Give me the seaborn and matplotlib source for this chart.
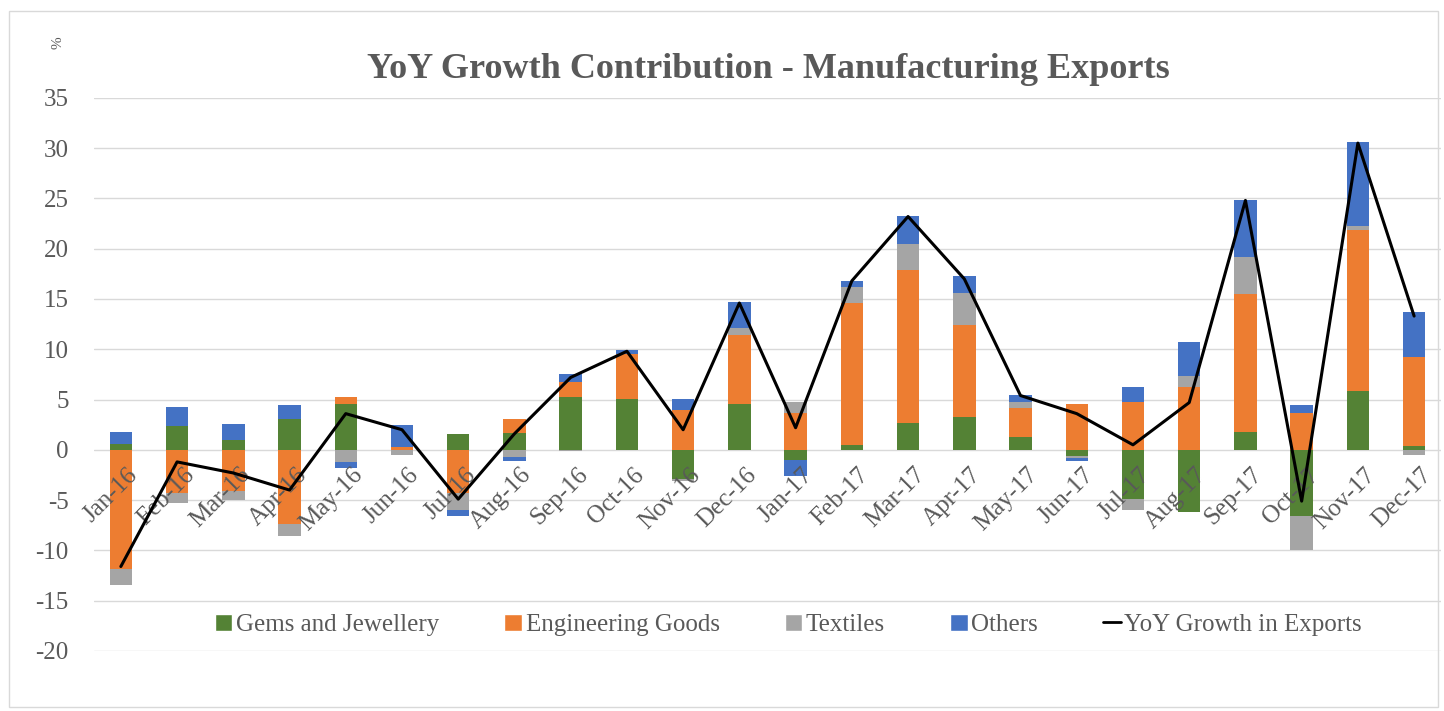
import numpy as np
import pandas as pd
import seaborn as sns
import matplotlib.pyplot as plt
from matplotlib.patches import Patch, Rectangle
from matplotlib.lines import Line2D
from matplotlib.transforms import ScaledTranslation

months = ["Jan-16", "Feb-16", "Mar-16", "Apr-16", "May-16", "Jun-16",
          "Jul-16", "Aug-16", "Sep-16", "Oct-16", "Nov-16", "Dec-16",
          "Jan-17", "Feb-17", "Mar-17", "Apr-17", "May-17", "Jun-17",
          "Jul-17", "Aug-17", "Sep-17", "Oct-17", "Nov-17", "Dec-17"]

gems = [0.6, 2.4, 1.0, 3.1, 4.55, 0.0, 1.55, 1.65, 5.25, 5.05, -2.9, 4.6,
        -1.0, 0.5, 2.65, 3.3, 1.25, -0.65, -4.9, -6.15, 1.8, -6.6, 5.9, 0.35]
engineering = [-11.8, -4.3, -4.05, -7.4, 0.75, 0.3, -4.3, 1.4, 1.5, 4.45, 4.0, 6.8,
               3.65, 14.1, 15.2, 9.15, 2.9, 4.6, 4.8, 6.2, 13.65, 3.65, 16.0, 8.85]
textiles = [-1.6, -1.0, -0.95, -1.2, -1.2, -0.5, -1.7, -0.75, -0.1, 0.0, -0.2, 0.7,
            1.1, 1.55, 2.65, 3.1, 0.6, -0.15, -1.1, 1.1, 3.75, -3.4, 0.4, -0.5]
others = [1.2, 1.9, 1.6, 1.4, -0.6, 2.2, -0.6, -0.4, 0.75, 0.4, 1.05, 2.6,
          -1.6, 0.6, 2.8, 1.75, 0.75, -0.3, 1.4, 3.4, 5.6, 0.85, 8.3, 4.5]
yoy = [-11.6, -1.2, -2.3, -4.0, 3.6, 2.0, -4.9, 1.6, 7.2, 9.8, 2.0, 14.6,
       2.2, 16.8, 23.2, 17.0, 5.4, 3.6, 0.5, 4.7, 24.8, -5.1, 30.5, 13.3]

series_names = ["Gems and Jewellery", "Engineering Goods", "Textiles", "Others"]
colors = ["#548235", "#ED7D31", "#A5A5A5", "#4472C4"]
text_col = "#595959"

sns.set_style("white")
plt.rcParams["font.family"] = ["Liberation Serif", "DejaVu Serif"]
plt.rcParams["axes.unicode_minus"] = False

fig = plt.figure(figsize=(14.44, 7.11), dpi=100)
ax = fig.add_axes([0.065, 0.0844, 0.933, 0.778])

vals = np.array([gems, engineering, textiles, others])
pos_cum = np.cumsum(np.clip(vals, 0, None), axis=0)
neg_cum = np.cumsum(np.clip(vals, None, 0), axis=0)

# stacked bars: draw cumulative totals from the outermost layer inwards
for k in range(3, -1, -1):
    for cum in (pos_cum, neg_cum):
        df = pd.DataFrame({"month": months, "value": cum[k]})
        sns.barplot(data=df, x="month", y="value", color=colors[k], width=0.4,
                    linewidth=0, saturation=1, ax=ax, order=months)

line_df = pd.DataFrame({"month": months, "yoy": yoy})
sns.lineplot(data=line_df, x="month", y="yoy", color="black", linewidth=2.2,
             sort=False, ax=ax, zorder=6)

ax.set_ylim(-20, 35)
ax.set_xlim(-0.48, 23.48)
ax.set_yticks(range(-20, 36, 5))
ax.yaxis.grid(True, color="#d9d9d9", linewidth=1)
ax.set_axisbelow(True)
for s in ax.spines.values():
    s.set_visible(False)
ax.set_xlabel("")
ax.set_ylabel("")
ax.tick_params(axis="y", length=0, labelsize=18, labelcolor=text_col, pad=18)

# month labels sit at the zero line, on top of the bars like in Excel
ax.spines["bottom"].set_position(("data", 0))
ax.xaxis.set_zorder(5)
ax.tick_params(axis="x", length=0, labelsize=18, labelcolor=text_col, pad=10)
ax.set_xticks(range(len(months)))
ax.set_xticklabels(months, rotation=45, ha="right", rotation_mode="anchor")
for lab in ax.get_xticklabels():
    lab.set_transform(lab.get_transform() + ScaledTranslation(0.06, 0, fig.dpi_scale_trans))

fig.text(0.532, 0.902, "YoY Growth Contribution - Manufacturing Exports",
         ha="center", va="center", fontsize=26, fontweight="bold", color=text_col)
fig.text(0.04, 0.94, "%", rotation=90, ha="center", va="center", fontsize=11, color=text_col)

handles = [Patch(facecolor=c, label=n) for c, n in zip(colors, series_names)]
handles.append(Line2D([0], [0], color="black", linewidth=2, label="YoY Growth in Exports"))
fig.legend(handles=handles, loc="center", bbox_to_anchor=(0.546, 0.121), ncol=5,
           frameon=False, fontsize=18, labelcolor=text_col, handlelength=0.7,
           handleheight=0.7, handletextpad=0.15, columnspacing=2.6)

fig.add_artist(Rectangle((0.006, 0.006), 0.99, 0.978, transform=fig.transFigure,
                         fill=False, edgecolor="#d9d9d9", linewidth=1))

plt.savefig("out.png", dpi=100)
